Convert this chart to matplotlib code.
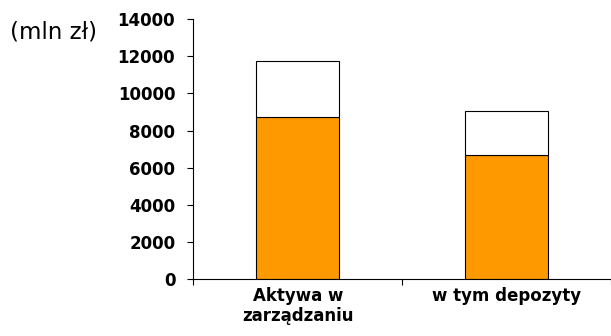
import numpy as np
from matplotlib import pyplot as plt

# wartosci w mln zl
categories = ["Aktywa w\nzarządzaniu", "w tym depozyty"]
orange_part = [8750, 6670]
totals = [11750, 9040]
yticks = [0, 2000, 4000, 6000, 8000, 10000, 12000, 14000]

white_part = [t - o for t, o in zip(totals, orange_part)]
x = np.arange(len(categories))

fig = plt.figure(figsize=(6.11, 3.36), dpi=100)
ax = fig.add_axes([0.3164, 0.1696, 0.6834, 0.773])

ax.bar(x, orange_part, width=0.4, color='#FF9900', edgecolor='black', linewidth=0.8)
ax.bar(x, white_part, width=0.4, bottom=orange_part, color='white',
       edgecolor='black', linewidth=0.8)

ax.set_xlim(-0.5, len(categories) - 0.5)
ax.set_ylim(0, 14000)
ax.set_yticks(yticks)
ax.set_yticklabels([str(v) for v in yticks], fontsize=12, fontweight='bold')

ax.set_xticks(x)
ax.set_xticklabels(categories, fontsize=12, fontweight='bold', linespacing=1.1)
ax.set_xticks(np.arange(-0.5, len(categories)), minor=True)
ax.tick_params(axis='x', which='major', length=0, pad=6)
ax.tick_params(axis='x', which='minor', length=4, width=0.8, direction='out')
ax.tick_params(axis='y', length=4, width=0.8, direction='out', pad=9)

for s in ['top', 'right']:
    ax.spines[s].set_visible(False)
for s in ['left', 'bottom']:
    ax.spines[s].set_linewidth(0.8)

fig.text(0.017, 0.905, "(mln zł)", fontsize=16.5, va='center', ha='left')

fig.savefig("out.png", dpi=100)
